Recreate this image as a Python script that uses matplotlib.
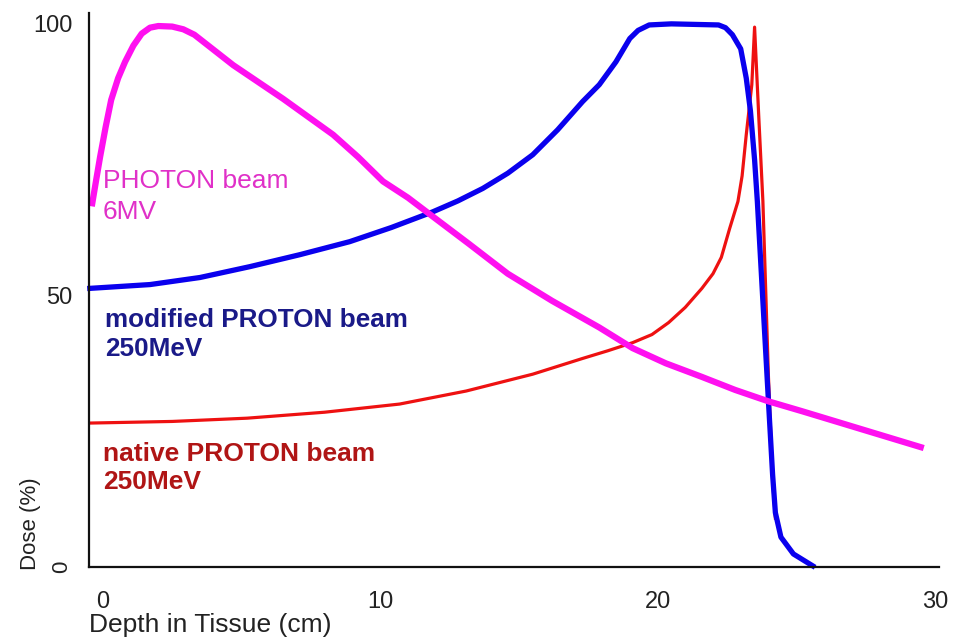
import matplotlib
matplotlib.use("Agg")
import matplotlib.pyplot as plt

plt.rcParams['font.family'] = ['Liberation Sans', 'DejaVu Sans']

# Data (depth in cm, dose in %)
photon_x = [-0.4, -0.25, -0.1, 0.1, 0.3, 0.55, 0.8, 1.1, 1.4, 1.7, 2.0, 2.5, 2.9, 3.3,
            4.7, 6.5, 8.3, 9.2, 10.1, 11.0, 11.8, 13.2, 14.6, 16.2, 17.9, 19.1, 20.3,
            21.6, 22.8, 24.0, 25.2, 27.4, 29.6]
photon_y = [66.4, 71.0, 75.5, 81.0, 86.0, 90.0, 93.0, 96.0, 98.2, 99.3, 99.6, 99.5, 99.0, 98.0,
            92.4, 86.2, 79.6, 75.5, 71.0, 68.0, 64.9, 59.5, 54.0, 49.0, 44.1, 40.3, 37.5,
            35.0, 32.6, 30.5, 28.7, 25.3, 21.9]

modified_x = [-0.47, 1.7, 3.5, 5.3, 7.1, 8.9, 10.4, 11.9, 12.8, 13.7, 14.6, 15.5, 16.4, 17.3,
              17.9, 18.5, 19.0, 19.3, 19.7, 20.5, 22.2, 22.45, 22.7, 23.0, 23.2, 23.35, 23.5,
              23.6, 23.8, 24.0, 24.15, 24.25, 24.45, 24.9, 25.6]
modified_y = [51.3, 52.0, 53.3, 55.3, 57.5, 59.9, 62.5, 65.4, 67.4, 69.7, 72.5, 75.9, 80.5, 85.7,
              88.8, 93.0, 97.3, 98.8, 99.8, 100.0, 99.8, 99.3, 98.0, 95.4, 90.0, 84.0, 75.0,
              67.3, 48.9, 30.5, 17.0, 10.0, 5.5, 2.4, 0.2]

native_x = [-0.47, 2.5, 5.2, 8.0, 10.7, 13.1, 15.5, 17.3, 18.2, 19.1, 19.8, 20.4, 21.0, 21.6,
            22.0, 22.3, 22.6, 22.9, 23.05, 23.2, 23.4, 23.5, 23.65, 23.8, 24.0, 24.15, 24.25]
native_y = [26.5, 26.8, 27.4, 28.5, 30.0, 32.4, 35.5, 38.4, 39.8, 41.3, 42.8, 45.0, 47.8, 51.3,
            54.0, 57.0, 62.3, 67.3, 72.0, 79.6, 88.8, 99.4, 83.0, 67.3, 35.0, 16.0, 9.0]

x_ticks = [0, 10, 20, 30]
x_tick_labels = ["0", "10", "20", "30"]
y_ticks = [0, 50, 100]
y_tick_labels = ["0", "50", "100"]

fig = plt.figure(figsize=(9.61, 6.38), dpi=100)
ax = fig.add_axes([89/961, 1 - 567/638, (939-89)/961, (567-13)/638])

ax.plot(native_x, native_y, color='#ee1111', lw=2.3, solid_joinstyle='round', clip_on=False)
ax.plot(modified_x, modified_y, color='#0a00ee', lw=3.8, solid_joinstyle='round', clip_on=False)
ax.plot(photon_x, photon_y, color='#ff10f0', lw=4.5, solid_joinstyle='round',
        solid_capstyle='butt', clip_on=False)

ax.set_xlim(-0.5, 30.15)
ax.set_ylim(0, 102)

for s in ['top', 'right']:
    ax.spines[s].set_visible(False)
for s in ['left', 'bottom']:
    ax.spines[s].set_linewidth(1.6)
    ax.spines[s].set_color('#111111')

ax.set_xticks(x_ticks)
ax.set_xticklabels(x_tick_labels)
ax.set_yticks(y_ticks)
ax.set_yticklabels(y_tick_labels)
ax.tick_params(axis='both', length=0, labelsize=17, labelcolor='#222222')
ax.tick_params(axis='x', pad=17)
ax.tick_params(axis='y', pad=12)
ax.get_yticklabels()[0].set_rotation(90)
ax.get_yticklabels()[0].set_verticalalignment('center')
ax.get_yticklabels()[0].set_fontsize(16)

ax.set_xlabel("Depth in Tissue (cm)", loc='left', fontsize=19, color='#222222', labelpad=0)
ax.set_ylabel("Dose (%)", loc='bottom', fontsize=16, color='#222222')
ax.yaxis.set_label_coords(-0.057, -0.005)

# Curve annotations
ax.text(0.0, 69.7, "PHOTON beam", color='#e030c8', fontsize=19, va='baseline')
ax.text(0.0, 64.0, "6MV", color='#e030c8', fontsize=19, va='baseline')
ax.text(0.07, 44.1, "modified PROTON beam", color='#1a1a88', fontsize=18.8,
        fontweight='bold', va='baseline')
ax.text(0.07, 38.8, "250MeV", color='#1a1a88', fontsize=18.8, fontweight='bold', va='baseline')
ax.text(0.0, 19.5, "native PROTON beam", color='#b01515', fontsize=19,
        fontweight='bold', va='baseline')
ax.text(0.0, 14.3, "250MeV", color='#b01515', fontsize=19, fontweight='bold', va='baseline')

fig.savefig("out.png", dpi=100)
